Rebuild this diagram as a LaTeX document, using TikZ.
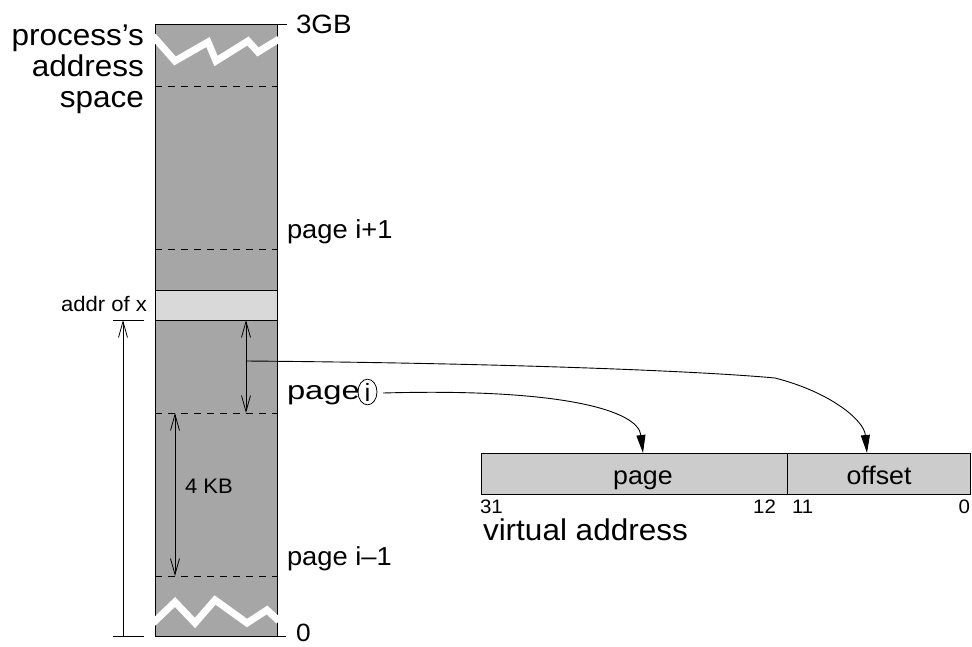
\documentclass[tikz,border=0pt]{standalone}
\usepackage{fontspec}
\usepackage{graphicx}
\setmainfont[FakeStretch=1.05]{Liberation Sans}
\usetikzlibrary{arrows.meta,shapes.geometric}
\definecolor{dkgray}{HTML}{A6A6A6}
\definecolor{ltgray}{HTML}{D9D9D9}
\definecolor{vagray}{HTML}{CCCCCC}
\newcommand\fsz[1]{\fontsize{#1}{#1}\selectfont}
\tikzset{
  lbl/.style={inner sep=0pt, outer sep=0pt, text=black},
  dashsep/.style={dash pattern=on 7pt off 6pt, line width=0.8pt},
  zig/.style={white, line width=7pt, line join=miter, line cap=butt},
  dimarrow/.style={line width=0.8pt, -{Straight Barb[length=16pt,width=9pt,line width=0.8pt]}},
  dimarrows/.style={line width=0.8pt, {Straight Barb[length=16pt,width=9pt,line width=0.8pt]}-{Straight Barb[length=16pt,width=9pt,line width=0.8pt]}},
  curvearrow/.style={line width=0.9pt, -{Triangle[length=18pt,width=9pt]}},
  vabox/.style={draw, line width=1pt, fill=vagray, inner sep=0pt, anchor=north west, minimum height=41pt}
}
\begin{document}
\begin{tikzpicture}[x=1pt,y=-1pt]
\useasboundingbox (0,0) rectangle (972,646);
% column
\node[fill=dkgray, inner sep=0pt, outer sep=0pt, minimum width=122pt, minimum height=612pt, anchor=north west] (col) at (155,24) {};
% addr of x box
\node[draw, line width=0.9pt, fill=ltgray, inner sep=0pt, outer sep=0pt, minimum width=122pt, minimum height=30pt, anchor=north west] (xbox) at (155,290) {};
% dashed page boundaries
\foreach \yy in {86,249,413,576} \draw[dashsep] (155,\yy) -- (277,\yy);
% borders
\draw[line width=0.9pt] (col.north west) -- (col.south west);
\draw[line width=0.9pt] (col.north east) -- (col.south east);
\coordinate (topr) at (287,24);
\coordinate (botr) at (286,636);
\draw[line width=0.9pt] (col.north west) -- (topr);
\draw[line width=0.9pt] (col.south west) -- (botr);
% zigzags
\draw[zig] (153,36) -- (175,61) -- (208,42) -- (216,61) -- (248,41) -- (258,52) -- (279,39);
\draw[zig] (153,623) -- (175,602) -- (195,623) -- (215,600) -- (247,623) -- (267,610) -- (279,621);
% labels left
\node[lbl, anchor=base east] (pa1) at (144,45) {\fsz{30}process’s};
\node[lbl, anchor=base east] (pa2) at (144,76) {\fsz{30}address};
\node[lbl, anchor=base east] (pa3) at (144,107) {\fsz{30}space};
\node[lbl, anchor=base west] (gb) at (296,33.5) {\fsz{26.5}3GB};
\node[lbl, anchor=base west] (zero) at (296,641) {\fsz{25}0};
\node[lbl, anchor=base west] (pip) at (287,238) {\fsz{26}page i+1};
\node[lbl, anchor=base west] (pim) at (287,565) {\fsz{26}page i–1};
\node[lbl, anchor=base west] (pgi) at (287,399) {\scalebox{1.2}[1]{\fsz{26}page}};
\node[draw, ellipse, line width=0.8pt, minimum width=19pt, minimum height=20pt, inner sep=0pt] (ci) at (367.5,392) {\fsz{25}i};
\node[lbl, anchor=base east] (addr) at (147,311) {\fsz{21}addr of x};
\node[lbl, anchor=base west] (kb) at (185,493) {\fsz{21}4 KB};
% dimension marks
\coordinate (d1a) at (113,320); \coordinate (d1b) at (144,320);
\coordinate (d2a) at (113,636); \coordinate (d2b) at (144,636);
\draw[line width=0.8pt] (d1a) -- (d1b);
\draw[line width=0.8pt] (d2a) -- (d2b);
\coordinate (lbot) at (123,636); \coordinate (ltop) at (123,320);
\draw[dimarrow] (lbot) -- (ltop);
\coordinate (oa1) at (246,320); \coordinate (oa2) at (246,413);
\draw[dimarrows] (oa1) -- (oa2);
\coordinate (kb1) at (175,413); \coordinate (kb2) at (175,576);
\draw[dimarrows] (kb1) -- (kb2);
% virtual address
\node[vabox, minimum width=306pt] (pbox) at (481,453) {};
\node[vabox, minimum width=183pt] (obox) at (787,453) {};
\node[lbl, anchor=base] (ptxt) at (643,484) {\fsz{25.5}page};
\node[lbl, anchor=base] (otxt) at (879,484) {\fsz{25.5}offset};
\node[lbl, anchor=base west] (b31) at (480,513) {\fsz{19.5}31};
\node[lbl, anchor=base east] (b12) at (776,513) {\fsz{19.5}12};
\node[lbl, anchor=base west] (b11) at (792,513) {\fsz{19.5}11};
\node[lbl, anchor=base east] (b0) at (970,513) {\fsz{19.5}0};
\node[lbl, anchor=base west] (va) at (483,540) {\fsz{30}virtual address};
% connectors
\coordinate (oa) at (246,361);
\coordinate (ob) at (775,378);
\coordinate (otop) at (867,453);
\draw[curvearrow] (oa) .. controls (500,363) and (700,371) .. (ob) .. controls (830,392) and (864,420) .. (otop);
\coordinate (pst) at (383,393);
\coordinate (ptop) at (643,453);
\draw[curvearrow] (pst) .. controls (560,388) and (638,410) .. (ptop);
\end{tikzpicture}
\end{document}
